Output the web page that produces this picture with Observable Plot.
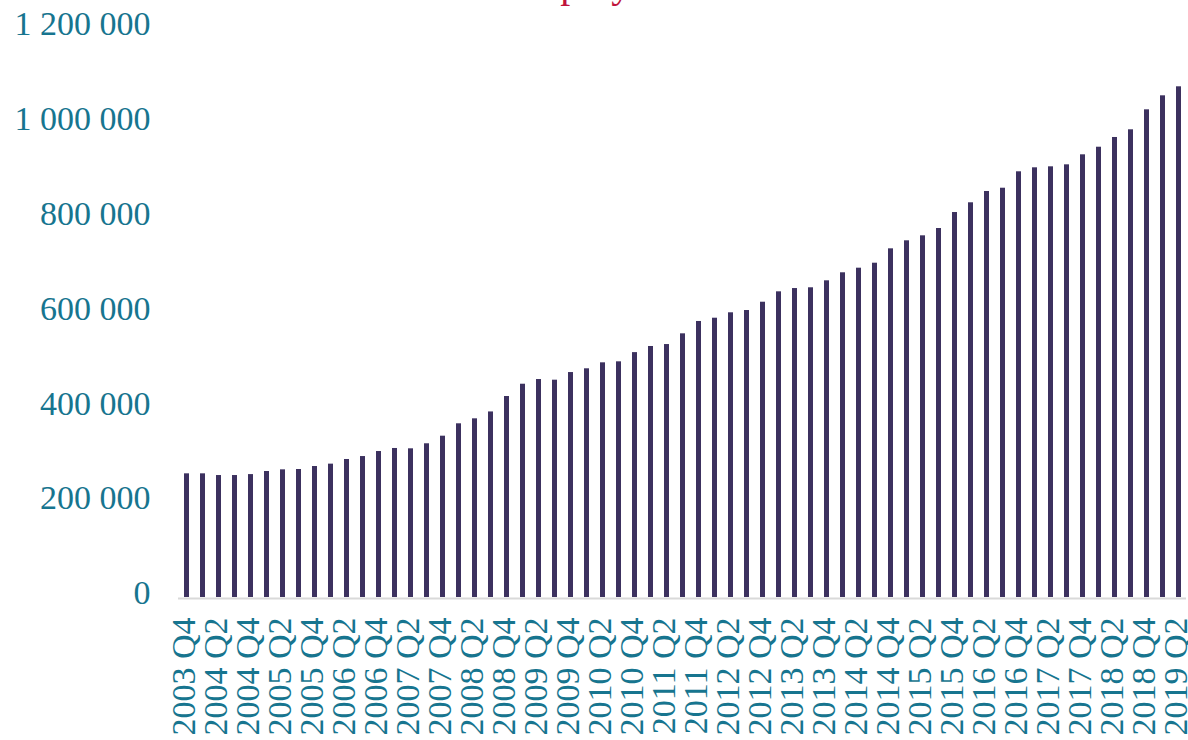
<!DOCTYPE html>
<html><head><meta charset="utf-8">
<script src="https://cdn.jsdelivr.net/npm/d3@7"></script>
<script src="https://cdn.jsdelivr.net/npm/@observablehq/plot@0.6"></script>
<style>
body{margin:0;background:#fff;overflow:hidden;}
#wrap{position:relative;width:1188px;height:740px;overflow:hidden;background:#fff;}
#title{position:absolute;left:14px;width:1188px;top:-36px;text-align:center;font-family:"Liberation Serif";font-size:40px;line-height:40px;color:#c0143c;white-space:nowrap;z-index:2;}
#chart{position:absolute;left:0;top:0;}
</style></head><body>
<div id="wrap"><div id="title">Employment</div><div id="chart"></div></div>
<script>
const quarters = [
 "2003 Q4",
 "2004 Q1","2004 Q2","2004 Q3","2004 Q4",
 "2005 Q1","2005 Q2","2005 Q3","2005 Q4",
 "2006 Q1","2006 Q2","2006 Q3","2006 Q4",
 "2007 Q1","2007 Q2","2007 Q3","2007 Q4",
 "2008 Q1","2008 Q2","2008 Q3","2008 Q4",
 "2009 Q1","2009 Q2","2009 Q3","2009 Q4",
 "2010 Q1","2010 Q2","2010 Q3","2010 Q4",
 "2011 Q1","2011 Q2","2011 Q3","2011 Q4",
 "2012 Q1","2012 Q2","2012 Q3","2012 Q4",
 "2013 Q1","2013 Q2","2013 Q3","2013 Q4",
 "2014 Q1","2014 Q2","2014 Q3","2014 Q4",
 "2015 Q1","2015 Q2","2015 Q3","2015 Q4",
 "2016 Q1","2016 Q2","2016 Q3","2016 Q4",
 "2017 Q1","2017 Q2","2017 Q3","2017 Q4",
 "2018 Q1","2018 Q2","2018 Q3","2018 Q4",
 "2019 Q1","2019 Q2"
];
const values = [
 260600,
 260600,257000,257000,259000,
 265500,269000,269700,276000,
 281000,290800,297000,307600,
 314000,313300,323900,339900,
 366000,376500,391000,423500,
 449400,459300,457900,474000,
 481900,494500,496600,516000,
 528900,533000,555600,581600,
 588500,599900,604700,622200,
 644100,651000,652600,667300,
 684200,693900,704400,734700,
 751600,762100,777500,811200,
 831700,855500,862400,897000,
 905400,907500,911700,932800,
 948800,969300,985500,1027600,
 1057100,1076100
];
const yTicks = [0,200000,400000,600000,800000,1000000,1200000];
const xTickLabels = quarters.filter((q, i) => i % 2 === 0);

const data = quarters.map((q, i) => ({q, v: values[i]}));
const fmt = v => d3.format(",")(v).replace(/,/g, " ");
const teal = "#17758f";

const chart = Plot.plot({
  width: 1188,
  height: 740,
  marginLeft: 178,
  marginRight: 2,
  marginTop: 27.5,
  marginBottom: 143,
  style: {fontFamily: "Liberation Serif", fontSize: "34px", color: teal, background: "white", overflow: "visible"},
  x: {domain: quarters, paddingInner: 0.69, paddingOuter: 0.345, align: 0.5, label: null},
  y: {domain: [0, 1200000], label: null},
  marks: [
    Plot.barY(data, {x: "q", y: "v", fill: "#3c315f"}),
    Plot.ruleY([0], {stroke: "#d9d9d9", strokeWidth: 2, dy: 1}),
    Plot.axisY({ticks: yTicks, tickSize: 0, tickPadding: 28, tickFormat: fmt, fill: teal, fontSize: 34, dy: -4, label: null}),
    Plot.axisX({ticks: xTickLabels, tickSize: 0, tickPadding: 20, tickRotate: -90, fill: teal, fontSize: 34, dx: -3, label: null})
  ]
});
document.getElementById("chart").appendChild(chart);
</script>
</body></html>
